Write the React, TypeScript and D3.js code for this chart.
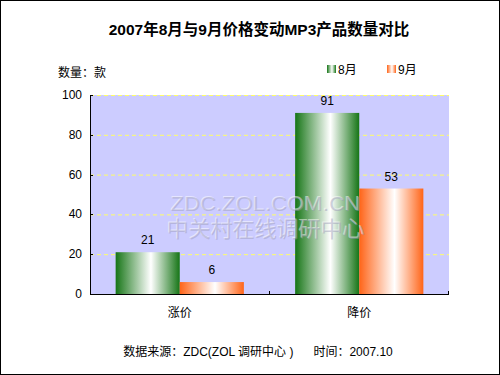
import React, { useEffect, useRef } from 'react';
import * as d3 from 'd3';

// chart data
const categories = ['涨价', '降价'];
const seriesNames = ['8月', '9月'];
const augValues = [21, 91];
const sepValues = [6, 53];
const yTicks = [0, 20, 40, 60, 80, 100];

const FONT = '"Liberation Sans", Arial, "Noto Sans CJK SC", sans-serif';

const App = () => {
  const ref = useRef<SVGSVGElement | null>(null);

  useEffect(() => {
    document.body.style.margin = '0';
    const width = 500;
    const height = 375;
    const margin = { top: 95, right: 51, bottom: 81, left: 90 };

    const svg = d3.select(ref.current);
    svg.selectAll('*').remove();
    svg.style('font-family', FONT);

    const defs = svg.append('defs');
    const makeGrad = (id: string, color: string) => {
      const g = defs.append('linearGradient').attr('id', id).attr('x1', '0%').attr('x2', '100%').attr('y1', '0%').attr('y2', '0%');
      g.append('stop').attr('offset', '0%').attr('stop-color', color);
      g.append('stop').attr('offset', '55%').attr('stop-color', '#ffffff');
      g.append('stop').attr('offset', '100%').attr('stop-color', color);
    };
    makeGrad('gGreen', '#167516');
    makeGrad('gOrange', '#ff6418');
    const fills = ['url(#gGreen)', 'url(#gOrange)'];

    // outer frame
    svg.append('rect').attr('x', 0.5).attr('y', 0.5).attr('width', width - 1).attr('height', height - 1)
      .attr('fill', '#fff').attr('stroke', '#000');

    const x = d3.scaleBand().domain(categories).range([margin.left, width - margin.right]);
    const x1 = d3.scaleBand().domain(seriesNames).range([0, x.bandwidth()]).paddingOuter(0.4);
    const y = d3.scaleLinear().domain([0, 100]).range([height - margin.bottom, margin.top]);

    // plot background
    svg.append('rect').attr('x', margin.left).attr('y', margin.top)
      .attr('width', width - margin.left - margin.right).attr('height', height - margin.top - margin.bottom)
      .attr('fill', '#ccccff');

    // grid
    svg.append('g').selectAll('line').data(yTicks.filter((t) => t > 0)).join('line')
      .attr('x1', margin.left).attr('x2', width - margin.right)
      .attr('y1', (d) => y(d) + 0.5).attr('y2', (d) => y(d) + 0.5)
      .attr('stroke', '#ffff66').attr('stroke-dasharray', '4,3');

    // bars
    const series = [augValues, sepValues];
    series.forEach((vals, si) => {
      const g = svg.append('g');
      g.selectAll('rect').data(vals).join('rect')
        .attr('x', (_, i) => x(categories[i])! + x1(seriesNames[si])!)
        .attr('y', (d) => y(d))
        .attr('width', x1.bandwidth())
        .attr('height', (d) => y(0) - y(d))
        .attr('fill', fills[si]);
      g.selectAll('text').data(vals).join('text')
        .attr('x', (_, i) => x(categories[i])! + x1(seriesNames[si])! + x1.bandwidth() / 2)
        .attr('y', (d) => y(d) - 8)
        .attr('text-anchor', 'middle').attr('font-size', 12).attr('fill', '#000')
        .text((d) => d);
    });

    // watermark (embossed, over the bars)
    const wmLines = [
      { text: 'ZDC.ZOL.COM.CN', y: 211, size: 21, len: 190 },
      { text: '中关村在线调研中心', y: 237, size: 22, len: 198 },
    ];
    const wm = svg.append('g').attr('text-anchor', 'middle');
    wmLines.forEach((l) => {
      wm.append('text').attr('x', 266).attr('y', l.y).attr('font-size', l.size)
        .attr('textLength', l.len).attr('lengthAdjust', 'spacingAndGlyphs')
        .attr('fill', '#ffffff').attr('opacity', 0.5).attr('transform', 'translate(-1,-1)').text(l.text);
      wm.append('text').attr('x', 266).attr('y', l.y).attr('font-size', l.size)
        .attr('textLength', l.len).attr('lengthAdjust', 'spacingAndGlyphs')
        .attr('fill', '#9a9ab8').attr('opacity', 0.45).text(l.text);
    });

    // axes
    const axis = svg.append('g').attr('stroke', '#000').attr('shape-rendering', 'crispEdges');
    axis.append('line').attr('x1', margin.left + 0.5).attr('x2', margin.left + 0.5).attr('y1', margin.top).attr('y2', y(0));
    axis.append('line').attr('x1', margin.left).attr('x2', width - margin.right).attr('y1', y(0) + 0.5).attr('y2', y(0) + 0.5);
    axis.selectAll('.yt').data(yTicks).join('line').attr('class', 'yt')
      .attr('x1', margin.left).attr('x2', margin.left + 3).attr('y1', (d) => y(d) + 0.5).attr('y2', (d) => y(d) + 0.5);
    const catTicks = [...categories.slice(1).map((c) => x(c)!), width - margin.right];
    axis.selectAll('.xt').data(catTicks).join('line').attr('class', 'xt')
      .attr('x1', (d) => d - 0.5).attr('x2', (d) => d - 0.5).attr('y1', y(0) - 3).attr('y2', y(0));

    svg.append('g').selectAll('text').data(yTicks).join('text')
      .attr('x', 82).attr('y', (d) => y(d) + 4).attr('text-anchor', 'end').attr('font-size', 12)
      .text((d) => d);

    svg.append('g').selectAll('text').data(categories).join('text')
      .attr('x', (d) => x(d)! + x.bandwidth() / 2).attr('y', 317).attr('text-anchor', 'middle').attr('font-size', 12)
      .text((d) => d);

    // title
    svg.append('text').attr('x', 259).attr('y', 35).attr('text-anchor', 'middle')
      .attr('font-size', 15.5).attr('font-weight', 'bold').text('2007年8月与9月价格变动MP3产品数量对比');
    svg.append('text').attr('x', 58).attr('y', 77).attr('font-size', 12).text('数量：款');

    // legend
    const legendX = [327, 387];
    seriesNames.forEach((name, i) => {
      svg.append('rect').attr('x', legendX[i]).attr('y', 65).attr('width', 9).attr('height', 8).attr('fill', fills[i]);
      svg.append('text').attr('x', legendX[i] + 11).attr('y', 74).attr('font-size', 12).text(name);
    });

    svg.append('text').attr('x', 258).attr('y', 356).attr('text-anchor', 'middle').attr('font-size', 12)
      .attr('xml:space', 'preserve').text('数据来源：ZDC(ZOL 调研中心 )      时间：2007.10');
  }, []);

  return <svg ref={ref} width={500} height={375} style={{ display: 'block' }} />;
};

export default App;
